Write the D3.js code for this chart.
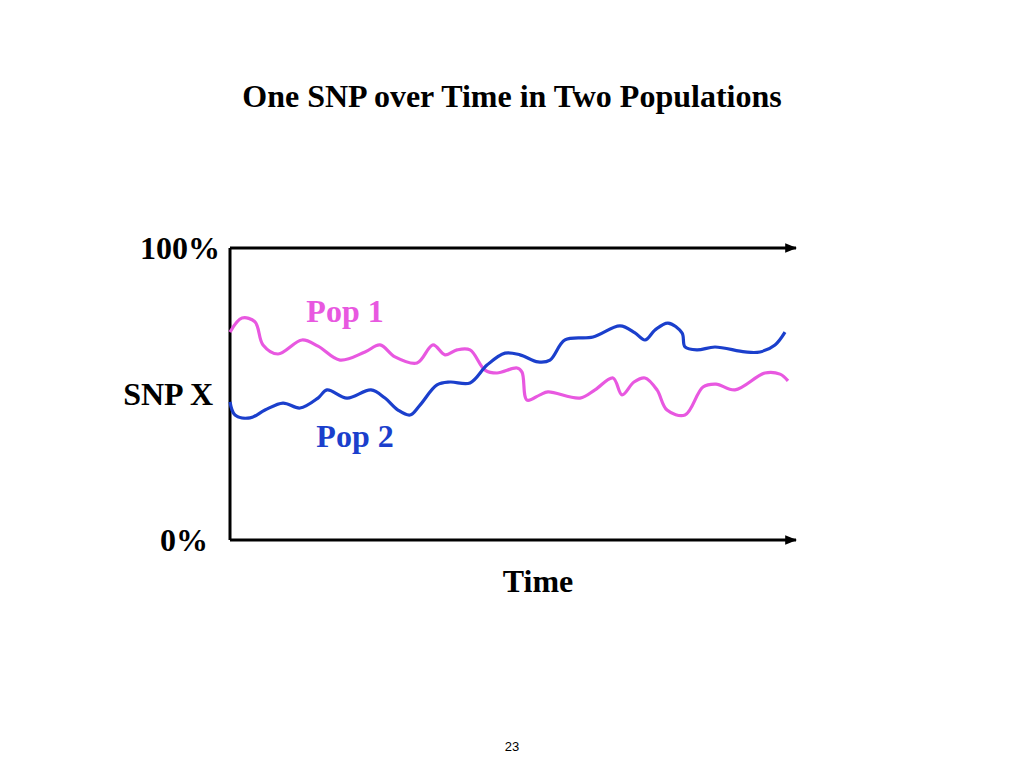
<!DOCTYPE html>
<html><head><meta charset="utf-8">
<script src="https://d3js.org/d3.v7.min.js"></script>
<style>body{margin:0;background:#fff}</style>
</head><body>
<svg id="chart" width="1024" height="768"></svg>
<script>
// time (arbitrary units) and SNP X frequency (%)
var pop1Time = [0,12,25,33,48,72,88,110,135,150,165,187,203,215,227,240,255,267,287,292,297,310,318,350,365,383,392,404,415,427,437,455,473,486,505,535,550,558];
var pop1Freq = [71.2,76,74.7,66.8,63.7,68.5,66.4,61.6,64.4,66.8,62.7,60.6,66.8,63.4,65.1,65.1,58.2,57.2,58.9,57.5,47.9,49.7,50.7,48.6,51.4,55.5,49.7,54.1,55.5,51.4,44.5,42.8,52.4,53.4,51.4,57.2,56.8,54.5];
var pop2Time = [0,5,20,35,53,70,88,97,117,141,155,168,180,190,207,220,240,257,275,290,308,320,335,363,390,405,415,425,438,452,455,467,485,515,530,545,555];
var pop2Freq = [47.3,42.8,41.8,44.5,46.9,45.2,48.6,51.4,48.6,51.4,48.6,44.5,42.8,46.2,53.1,54.1,53.8,59.9,64,63.4,61,61.6,68.5,69.5,73.3,70.9,68.5,71.9,74.3,70.9,66.1,65.1,66.1,64.4,64.4,66.8,71.2];
var yTicks = [{v:100,t:"100%",x:220},{v:50,t:"SNP X",x:213},{v:0,t:"0%",x:208}];

var svg = d3.select("#chart");
var x = d3.scaleLinear().domain([0,560]).range([230,790]);
var y = d3.scaleLinear().domain([0,100]).range([540,248]);
var serif = "'Liberation Serif','Times New Roman',serif";

svg.append("defs").append("marker").attr("id","arr").attr("viewBox","0 0 10 10")
  .attr("refX",9).attr("refY",5).attr("markerWidth",4).attr("markerHeight",4).attr("orient","auto")
  .append("path").attr("d","M0,1L10,5L0,9Z").attr("fill","#000");

svg.append("text").attr("x",512).attr("y",107).attr("text-anchor","middle")
  .style("font-family",serif).style("font-size","32px").style("font-weight","bold")
  .text("One SNP over Time in Two Populations");

// axes
svg.append("line").attr("x1",x(0)).attr("x2",x(0)).attr("y1",y(100)).attr("y2",y(0)).attr("stroke","#000").attr("stroke-width",3);
[100,0].forEach(function(v){
  svg.append("line").attr("x1",x(0)).attr("x2",796).attr("y1",y(v)).attr("y2",y(v))
    .attr("stroke","#000").attr("stroke-width",3).attr("marker-end","url(#arr)");
});
svg.selectAll(".yl").data(yTicks).enter().append("text")
  .attr("x",function(d){return d.x;}).attr("y",function(d){return y(d.v)+11;}).attr("text-anchor","end")
  .style("font-family",serif).style("font-size","32px").style("font-weight","bold").text(function(d){return d.t;});
svg.append("text").attr("x",538).attr("y",592).attr("text-anchor","middle")
  .style("font-family",serif).style("font-size","32px").style("font-weight","bold").text("Time");

var line = d3.line().x(function(d){return x(d[0]);}).y(function(d){return y(d[1]);}).curve(d3.curveCatmullRom);
svg.append("path").attr("d",line(d3.zip(pop1Time,pop1Freq))).attr("fill","none").attr("stroke","#e858e0").attr("stroke-width",3.2);
svg.append("path").attr("d",line(d3.zip(pop2Time,pop2Freq))).attr("fill","none").attr("stroke","#1b3fcc").attr("stroke-width",3.2);

svg.append("text").attr("x",345).attr("y",322).attr("text-anchor","middle").attr("fill","#e858e0")
  .style("font-family",serif).style("font-size","32px").style("font-weight","bold").text("Pop 1");
svg.append("text").attr("x",355).attr("y",447).attr("text-anchor","middle").attr("fill","#1b3fcc")
  .style("font-family",serif).style("font-size","32px").style("font-weight","bold").text("Pop 2");

svg.append("text").attr("x",512).attr("y",751).attr("text-anchor","middle")
  .style("font-family","'Liberation Sans',Arial,sans-serif").style("font-size","13px").text("23");
</script>
</body></html>
